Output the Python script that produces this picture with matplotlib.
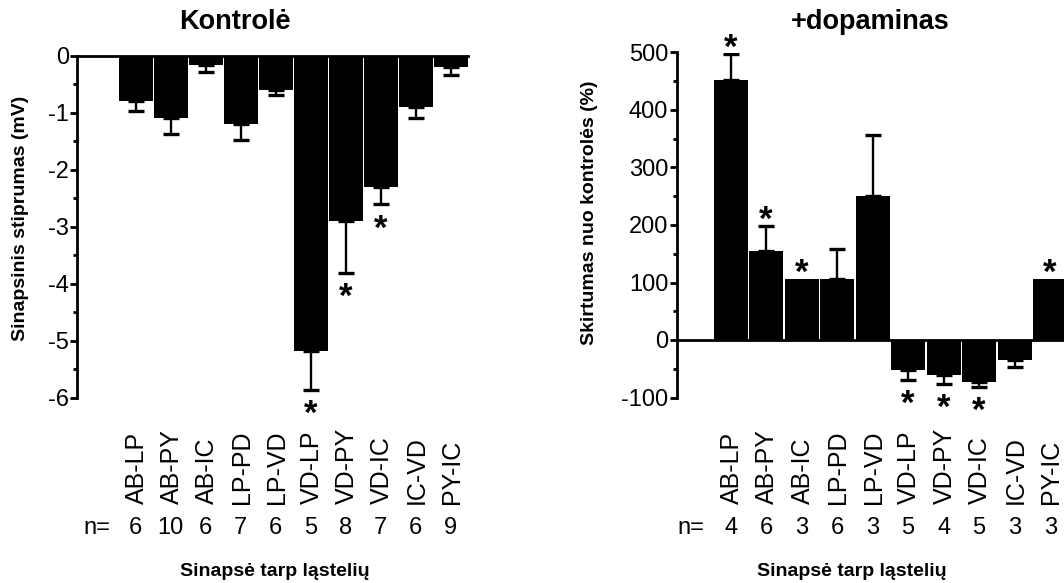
import matplotlib
matplotlib.use("Agg")
import matplotlib.pyplot as plt
import numpy as np

plt.rcParams['font.family'] = ['Liberation Sans', 'DejaVu Sans']

categories = ['AB-LP', 'AB-PY', 'AB-IC', 'LP-PD', 'LP-VD',
              'VD-LP', 'VD-PY', 'VD-IC', 'IC-VD', 'PY-IC']

ctrl_mean = [-0.80, -1.10, -0.16, -1.21, -0.60, -5.18, -2.91, -2.30, -0.91, -0.21]
ctrl_err = [0.18, 0.27, 0.13, 0.28, 0.10, 0.68, 0.90, 0.31, 0.18, 0.13]
ctrl_n = [6, 10, 6, 7, 6, 5, 8, 7, 6, 9]
ctrl_sig = [False, False, False, False, False, True, True, True, False, False]

da_mean = [452, 154, 106, 106, 251, -53, -61, -73, -35, 106]
da_err = [45, 44, 0, 52, 105, 16, 15, 8, 12, 0]
da_n = [4, 6, 3, 6, 3, 5, 4, 5, 3, 3]
da_sig = [True, True, True, False, False, True, True, True, False, True]

W, H = 1064, 583
fig = plt.figure(figsize=(W / 100, H / 100), dpi=100)


def px_rect(x0, x1, ytop, ybot):
    return [x0 / W, 1 - ybot / H, (x1 - x0) / W, (ybot - ytop) / H]


def draw_panel(ax, means, errs, ns, sigs, xlim, ylim, major, minor, zero_as_top):
    x = np.arange(len(categories))
    means = np.asarray(means, dtype=float)
    errs = np.asarray(errs, dtype=float)
    ax.bar(x, means, width=0.965, color='black', edgecolor='none', zorder=2)
    lower = np.where(means < 0, errs, 0)
    upper = np.where(means >= 0, errs, 0)
    mask = errs > 0
    ax.errorbar(x[mask], means[mask], yerr=[lower[mask], upper[mask]], fmt='none',
                ecolor='black', elinewidth=1.7, capsize=5.5, capthick=2.4, zorder=3)
    ax.set_xlim(*xlim)
    ax.set_ylim(*ylim)
    ax.set_yticks(major)
    ax.set_yticks(minor, minor=True)
    ax.set_yticklabels([str(v) for v in major])
    ax.tick_params(axis='y', which='major', direction='out', length=5, width=2,
                   labelsize=17, pad=1)
    ax.tick_params(axis='y', which='minor', direction='out', length=3, width=2)
    ax.set_xticks([])
    ax.spines['right'].set_visible(False)
    ax.spines['bottom'].set_visible(False)
    ax.spines['left'].set_linewidth(2)
    if zero_as_top:
        ax.spines['top'].set_linewidth(2)
    else:
        ax.spines['top'].set_visible(False)
        ax.axhline(0, color='black', lw=2, zorder=4)
    # significance asterisks
    for xi, m, e, s in zip(x, means, errs, sigs):
        if not s:
            continue
        end = m + e if m >= 0 else m - e
        off = 6 if m >= 0 else -25
        ax.annotate('*', xy=(xi, end), xytext=(0, off), textcoords='offset pixels',
                    ha='center', va='center', fontsize=25, fontweight='bold',
                    annotation_clip=False)
    # category labels and n
    for xi, c, n in zip(x, categories, ns):
        ax.annotate(c, xy=(xi, 0), xycoords=('data', 'axes fraction'),
                    xytext=(1, -107), textcoords='offset pixels', rotation=90,
                    ha='center', va='bottom', fontsize=18, annotation_clip=False)
        ax.annotate(str(n), xy=(xi, 0), xycoords=('data', 'axes fraction'),
                    xytext=(0, -131), textcoords='offset pixels',
                    ha='center', va='center', fontsize=17, annotation_clip=False)
    ax.annotate('n=', xy=(-1.12, 0), xycoords=('data', 'axes fraction'),
                xytext=(0, -131), textcoords='offset pixels',
                ha='center', va='center', fontsize=17, annotation_clip=False)


ax1 = fig.add_axes(px_rect(77.3, 468.3, 55.5, 397.5))
draw_panel(ax1, ctrl_mean, ctrl_err, ctrl_n, ctrl_sig, (-1.67, 9.5), (-6, 0),
           [0, -1, -2, -3, -4, -5, -6], [-0.5, -1.5, -2.5, -3.5, -4.5, -5.5], True)

ax2 = fig.add_axes(px_rect(676.7, 1064, 52.5, 397.5))
draw_panel(ax2, da_mean, da_err, da_n, da_sig, (-1.52, 9.39), (-100, 500),
           [500, 400, 300, 200, 100, 0, -100], [450, 350, 250, 150, 50, -50], False)

fig.text(235 / W, 1 - 22 / H, 'Kontrolė', ha='center', va='center',
         fontsize=19.5, fontweight='bold')
fig.text(870 / W, 1 - 22 / H, '+dopaminas', ha='center', va='center',
         fontsize=19.5, fontweight='bold')
fig.text(21 / W, 1 - 218 / H, 'Sinapsinis stiprumas (mV)', rotation=90,
         ha='center', va='center', fontsize=14, fontweight='bold')
fig.text(590 / W, 1 - 213 / H, 'Skirtumas nuo kontrolės (%)', rotation=90,
         ha='center', va='center', fontsize=14, fontweight='bold')
fig.text(275 / W, 1 - 571 / H, 'Sinapsė tarp ląstelių', ha='center', va='center',
         fontsize=14, fontweight='bold')
fig.text(852 / W, 1 - 571 / H, 'Sinapsė tarp ląstelių', ha='center', va='center',
         fontsize=14, fontweight='bold')

fig.savefig('out.png', dpi=100)
